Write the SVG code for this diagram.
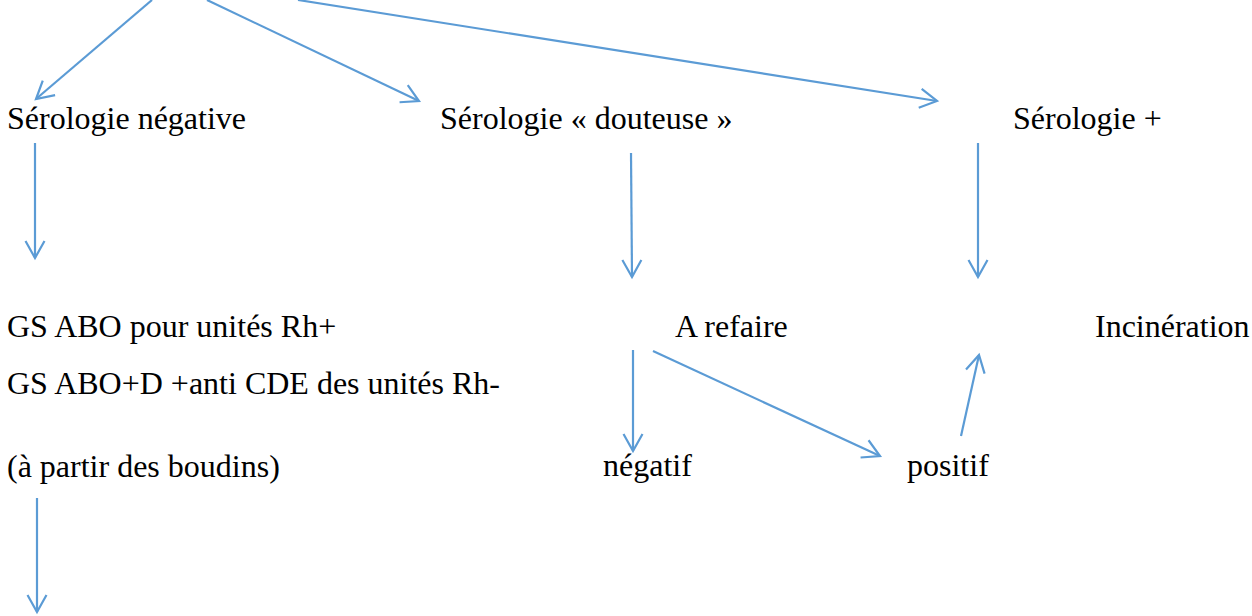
<svg xmlns="http://www.w3.org/2000/svg" width="1252" height="616" viewBox="0 0 1252 616">
<style>
.c line{stroke:#5B9BD5;stroke-width:2.2;fill:none;marker-end:url(#ah)}
</style>
<defs>
<marker id="ah" markerUnits="userSpaceOnUse" markerWidth="40" markerHeight="40" refX="0" refY="0" viewBox="-20 -20 40 40" orient="auto" overflow="visible">
<path d="M-17,-9.5 L0,0 L-17,9.5" fill="none" stroke="#5B9BD5" stroke-width="2.2"/>
</marker>
</defs>
<rect width="1252" height="616" fill="#fff"/>
<g class="c" id="connectors">
<line x1="152" y1="0" x2="36" y2="99"/>
<line x1="207" y1="0" x2="419" y2="101"/>
<line x1="298" y1="0" x2="937" y2="101"/>
<line x1="35" y1="143" x2="35" y2="258"/>
<line x1="631" y1="153" x2="632" y2="277"/>
<line x1="978" y1="143" x2="978" y2="277"/>
<line x1="633" y1="350" x2="633" y2="451"/>
<line x1="653" y1="351" x2="880" y2="456"/>
<line x1="961" y1="436" x2="979" y2="355"/>
<line x1="37" y1="498" x2="37" y2="612"/>
</g>
<g font-family="'Liberation Serif', 'Times New Roman', serif" font-size="32" fill="#000">
<g id="n-neg"><text x="7" y="129">Sérologie négative</text></g>
<g id="n-dout"><text x="440" y="129">Sérologie « douteuse »</text></g>
<g id="n-pos"><text x="1013" y="129">Sérologie +</text></g>
<g id="n-gs"><text x="7" y="337">GS ABO pour unités Rh+</text><text x="7" y="394">GS ABO+D +anti CDE des unités Rh-</text><text x="7" y="477">(à partir des boudins)</text></g>
<g id="n-refaire"><text x="675" y="337">A refaire</text></g>
<g id="n-incin"><text x="1095" y="337">Incinération</text></g>
<g id="n-negatif"><text x="603" y="476">négatif</text></g>
<g id="n-positif"><text x="907" y="476">positif</text></g>
</g>
</svg>
